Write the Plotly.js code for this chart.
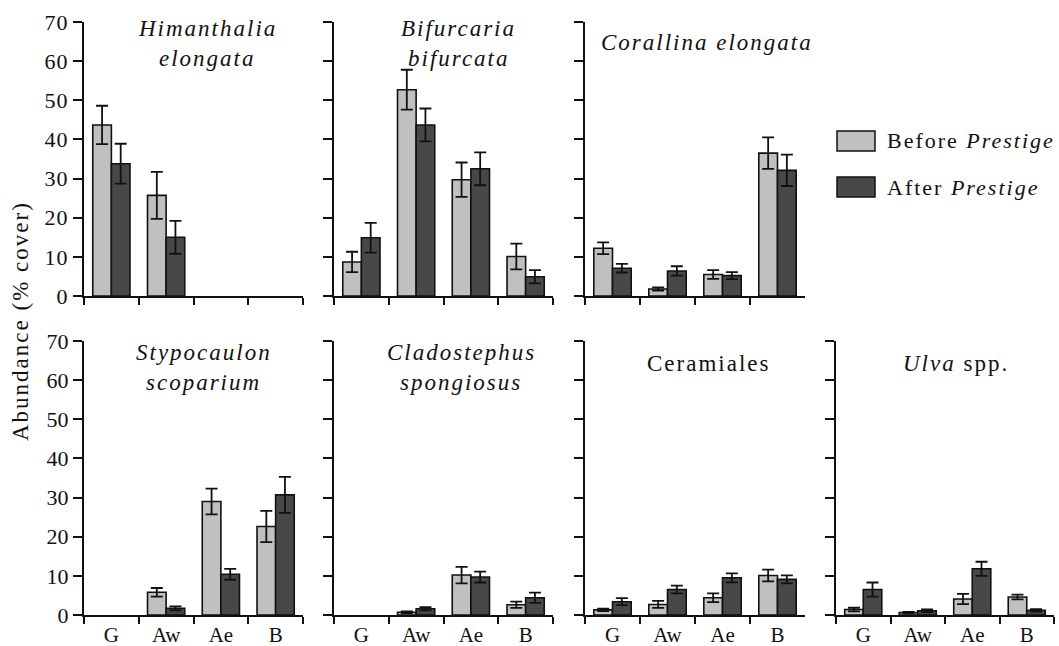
<!DOCTYPE html>
<html>
<head>
<meta charset="utf-8">
<script src="https://cdn.plot.ly/plotly-3.0.1.min.js"></script>
<style>
  body { margin: 0; background: #fff; }
  .annotation-text { letter-spacing: 2px; }
  .xtick text, .ytick text { letter-spacing: 1px; }
</style>
</head>
<body>
<div id="chart" style="width:1059px;height:646px"></div>
<script>
// ---- Data ----
const sites = ['G', 'Aw', 'Ae', 'B'];
const yTicks = [0, 10, 20, 30, 40, 50, 60, 70];
const seriesNames = ['Before Prestige', 'After Prestige'];

const himanthaliaBefore   = [43.7, 25.7, 0, 0];
const himanthaliaBeforeSE = [4.9, 6.0, 0, 0];
const himanthaliaAfter    = [33.8, 15.0, 0, 0];
const himanthaliaAfterSE  = [5.1, 4.2, 0, 0];

const bifurcariaBefore   = [8.7, 52.7, 29.7, 10.1];
const bifurcariaBeforeSE = [2.6, 5.1, 4.4, 3.3];
const bifurcariaAfter    = [14.9, 43.7, 32.5, 4.9];
const bifurcariaAfterSE  = [3.8, 4.2, 4.2, 1.7];

const corallinaBefore   = [12.2, 1.8, 5.5, 36.5];
const corallinaBeforeSE = [1.5, 0.4, 1.1, 4.0];
const corallinaAfter    = [7.1, 6.4, 5.2, 32.1];
const corallinaAfterSE  = [1.1, 1.2, 0.9, 4.0];

const stypocaulonBefore   = [0, 5.8, 29.0, 22.6];
const stypocaulonBeforeSE = [0, 1.1, 3.3, 4.0];
const stypocaulonAfter    = [0, 1.7, 10.4, 30.7];
const stypocaulonAfterSE  = [0, 0.5, 1.4, 4.6];

const cladostephusBefore   = [0, 0.7, 10.2, 2.6];
const cladostephusBeforeSE = [0, 0.2, 2.1, 0.8];
const cladostephusAfter    = [0, 1.6, 9.7, 4.4];
const cladostephusAfterSE  = [0, 0.4, 1.4, 1.3];

const ceramialesBefore   = [1.3, 2.7, 4.4, 10.1];
const ceramialesBeforeSE = [0.3, 0.9, 1.1, 1.5];
const ceramialesAfter    = [3.4, 6.5, 9.5, 9.1];
const ceramialesAfterSE  = [0.9, 1.0, 1.15, 1.0];

const ulvaBefore   = [1.4, 0.6, 4.1, 4.6];
const ulvaBeforeSE = [0.45, 0.2, 1.3, 0.6];
const ulvaAfter    = [6.5, 1.1, 11.8, 1.2];
const ulvaAfterSE  = [1.8, 0.35, 1.8, 0.3];

const panelTitles = [
  '<i>Himanthalia</i><br><i>elongata</i>',
  '<i>Bifurcaria</i><br><i>bifurcata</i>',
  '<i>Corallina elongata</i>',
  '<i>Stypocaulon</i><br><i>scoparium</i>',
  '<i>Cladostephus</i><br><i>spongiosus</i>',
  'Ceramiales',
  '<i>Ulva</i> spp.'
];

const panels = [
  [himanthaliaBefore, himanthaliaBeforeSE, himanthaliaAfter, himanthaliaAfterSE],
  [bifurcariaBefore, bifurcariaBeforeSE, bifurcariaAfter, bifurcariaAfterSE],
  [corallinaBefore, corallinaBeforeSE, corallinaAfter, corallinaAfterSE],
  [stypocaulonBefore, stypocaulonBeforeSE, stypocaulonAfter, stypocaulonAfterSE],
  [cladostephusBefore, cladostephusBeforeSE, cladostephusAfter, cladostephusAfterSE],
  [ceramialesBefore, ceramialesBeforeSE, ceramialesAfter, ceramialesAfterSE],
  [ulvaBefore, ulvaBeforeSE, ulvaAfter, ulvaAfterSE]
];

// ---- Styling / layout ----
const W = 1059, H = 646;
const FONT = 'Liberation Serif';
const lightFill = '#c0c0c0';
const darkFill = '#484848';
const edge = '#111';

const xDomPx = [[84,303],[334,553],[585,805],[84,303],[334,553],[585,805],[836,1054]];
const yDomPx = [[22,296],[22,296],[22,296],[341,615],[341,615],[341,615],[341,615]];
const titlePos = [
  {x:207, y:[28,58]}, {x:458, y:[28,58]}, {x:599, y:[43], left:true},
  {x:204, y:[352,382]}, {x:461, y:[352,382]}, {x:708, y:[363]}, {x:956, y:[363]}
];

const px2x = p => p / W;
const px2y = p => 1 - p / H;

const traces = [];
const layout = {
  width: W, height: H,
  margin: {l:0, r:0, t:0, b:0},
  paper_bgcolor: '#fff', plot_bgcolor: 'rgba(0,0,0,0)',
  showlegend: false,
  barmode: 'group',
  bargap: 0.32,
  bargroupgap: 0,
  font: {family: FONT, size: 20, color: '#111'},
  annotations: [],
  shapes: []
};

panels.forEach((p, i) => {
  const n = i + 1;
  const xa = 'x' + (n === 1 ? '' : n);
  const ya = 'y' + (n === 1 ? '' : n);
  const fills = [lightFill, darkFill];
  [0, 1].forEach(s => {
    const vals = p[s * 2];
    traces.push({
      type: 'bar',
      name: seriesNames[s],
      x: sites,
      // zero cover = no bar drawn (as in the reference)
      y: vals.map(v => (v === 0 ? null : v)),
      xaxis: xa, yaxis: ya,
      marker: {color: fills[s], line: {color: edge, width: 1.6}},
      error_y: {type: 'data', array: p[s * 2 + 1], visible: true,
                color: '#111', thickness: 1.8, width: 6},
      hoverinfo: 'skip'
    });
  });
  const bottom = n >= 4;
  const left = (n === 1 || n === 4);
  layout['xaxis' + (n === 1 ? '' : n)] = {
    domain: [px2x(xDomPx[i][0]), px2x(xDomPx[i][1])],
    anchor: ya,
    type: 'category',
    categoryorder: 'array', categoryarray: sites,
    range: [-0.5, 3.5],
    tickson: 'boundaries',
    ticks: 'outside', ticklen: 7, tickwidth: 2, tickcolor: '#111',
    showline: true, linewidth: 2, linecolor: '#111',
    showgrid: false, zeroline: false,
    showticklabels: bottom,
    tickfont: {family: FONT, size: 21, color: '#111'},
    fixedrange: true
  };
  layout['yaxis' + (n === 1 ? '' : n)] = {
    domain: [px2y(yDomPx[i][1]), px2y(yDomPx[i][0])],
    anchor: xa,
    range: [0, 70],
    tickmode: 'array', tickvals: yTicks, ticktext: yTicks.map(String),
    ticks: 'outside', ticklen: 9, tickwidth: 2, tickcolor: '#111',
    showline: true, linewidth: 2, linecolor: '#111',
    showgrid: false, zeroline: false,
    showticklabels: left,
    tickfont: {family: FONT, size: 22, color: '#111'},
    fixedrange: true
  };
  const tp = titlePos[i];
  const lines = panelTitles[i].split('<br>');
  lines.forEach((t, k) => {
    layout.annotations.push({
      xref: 'paper', yref: 'paper',
      x: px2x(tp.x), y: px2y(tp.y[k]),
      xanchor: tp.left ? 'left' : 'center', yanchor: 'middle',
      text: t, showarrow: false,
      font: {family: FONT, size: 23, color: '#111'}
    });
  });
});

// y-axis title
layout.annotations.push({
  xref: 'paper', yref: 'paper',
  x: px2x(20), y: px2y(321),
  xanchor: 'center', yanchor: 'middle',
  text: 'Abundance (% cover)', textangle: -90, showarrow: false,
  font: {family: FONT, size: 23, color: '#111'}
});

// legend (drawn manually to match the wide swatches)
const legendRows = [
  {y0: 131, y1: 151, fill: lightFill, text: 'Before <i>Prestige</i>'},
  {y0: 177, y1: 197, fill: darkFill, text: 'After <i>Prestige</i>'}
];
legendRows.forEach(r => {
  layout.shapes.push({
    type: 'rect', xref: 'paper', yref: 'paper',
    x0: px2x(837), x1: px2x(875), y0: px2y(r.y1), y1: px2y(r.y0),
    fillcolor: r.fill, line: {color: edge, width: 1.5}
  });
  layout.annotations.push({
    xref: 'paper', yref: 'paper',
    x: px2x(885), y: px2y((r.y0 + r.y1) / 2),
    xanchor: 'left', yanchor: 'middle',
    text: r.text, showarrow: false,
    font: {family: FONT, size: 22, color: '#111'}
  });
});

Plotly.newPlot('chart', traces, layout, {displayModeBar: false, staticPlot: true});
</script>
</body>
</html>
